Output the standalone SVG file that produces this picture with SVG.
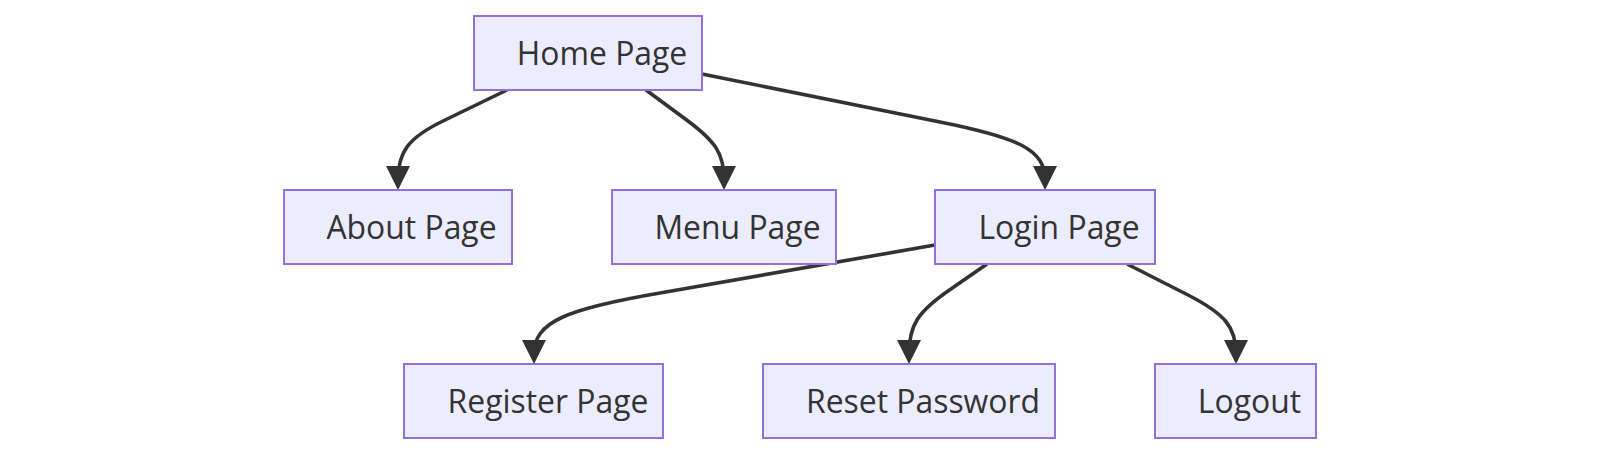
<svg xmlns="http://www.w3.org/2000/svg" width="1600" height="454" viewBox="0 0 1600 454">
<style>
.node rect{fill:#ECECFF;stroke:#9370DB;stroke-width:2}
.node text{font-family:"Open Sans","Liberation Sans",sans-serif;font-size:31.9px;fill:#333;text-anchor:middle}
.edge{fill:none;stroke:#333;stroke-width:3.6;marker-end:url(#arrow)}
</style>
<defs>
<marker id="arrow" viewBox="0 0 24 24" refX="14" refY="12" markerWidth="24" markerHeight="24" markerUnits="userSpaceOnUse" orient="auto">
<path d="M0,0 L24,12 L0,24 z" fill="#333"/>
</marker>
</defs>
<rect width="1600" height="454" fill="#ffffff"/>
<g id="connectors">
<path class="edge" d="M507,90 L443,121 C408,138 398,152 398,180"/>
<path class="edge" d="M646,90 L688,121 C716,142 724,154 724,180"/>
<path class="edge" d="M702,74 L940,122 C1020,138 1045,150 1045,180"/>
<path class="edge" d="M935,245 L660,293 C566,309 534,322 534,354"/>
<path class="edge" d="M987,264 L948,291 C918,312 909,325 909,354"/>
<path class="edge" d="M1127,264 L1188,295 C1225,314 1236,327 1236,354"/>
</g>
<g id="home" class="node"><rect x="474" y="16" width="228" height="74"/><text x="602" y="65">Home Page</text></g>
<g id="about" class="node"><rect x="284" y="190" width="228" height="74"/><text x="411.5" y="239">About Page</text></g>
<g id="menu" class="node"><rect x="612" y="190" width="224" height="74"/><text x="737.5" y="239">Menu Page</text></g>
<g id="login" class="node"><rect x="935" y="190" width="220" height="74"/><text x="1059" y="239">Login Page</text></g>
<g id="register" class="node"><rect x="404" y="364" width="259" height="74"/><text x="548" y="413">Register Page</text></g>
<g id="reset" class="node"><rect x="763" y="364" width="292" height="74"/><text x="923" y="413">Reset Password</text></g>
<g id="logout" class="node"><rect x="1155" y="364" width="161" height="74"/><text x="1249.5" y="413">Logout</text></g>
</svg>
